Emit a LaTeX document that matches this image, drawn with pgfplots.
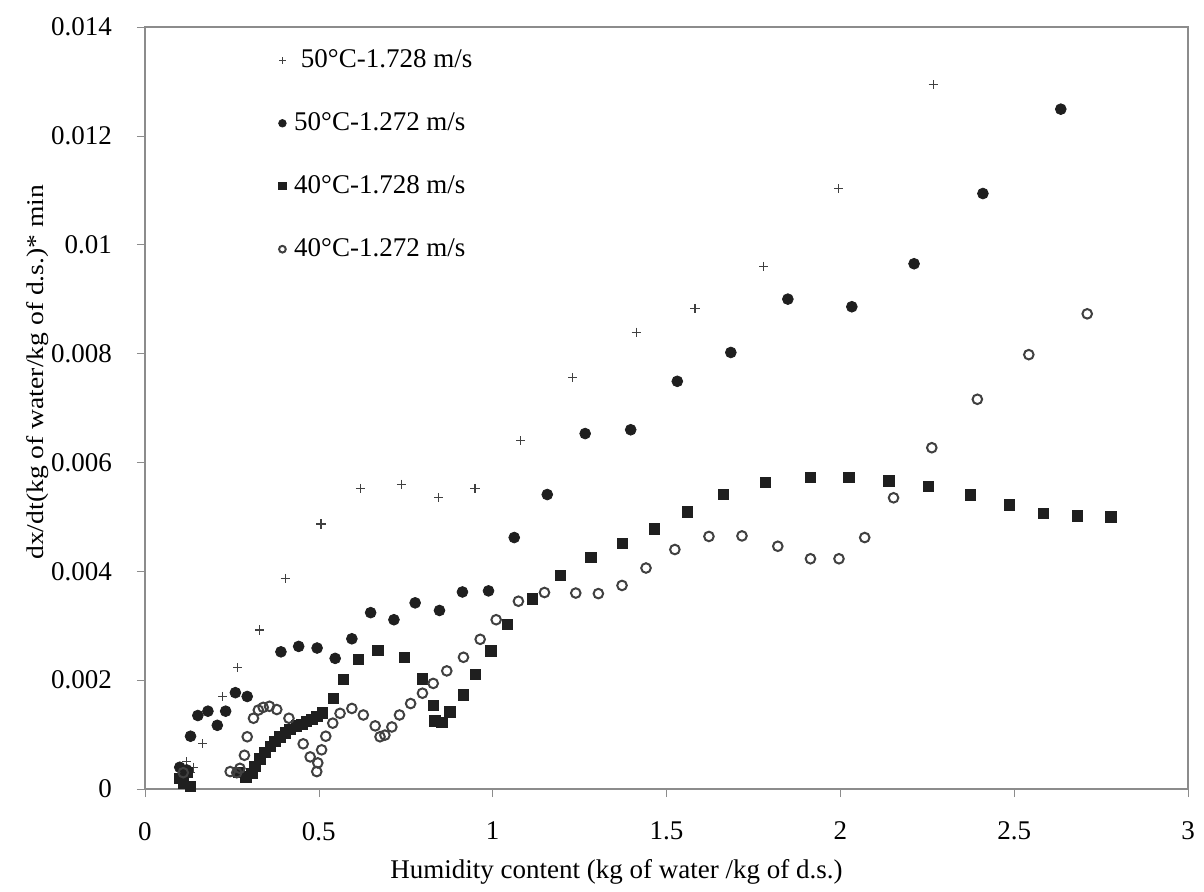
\documentclass[border=0pt]{standalone}
\usepackage{pgfplots}
\pgfplotsset{compat=1.18}
\usepackage{fontspec}
\setmainfont{Liberation Serif}
\newfontfamily\widefont[FakeStretch=1.15]{Liberation Serif}

\pgfplotstableread{
x y
0.12 0.0005
0.13 0.0003
0.14 0.0004
0.166 0.00083
0.224 0.0017
0.267 0.00223
0.330 0.00292
0.403 0.00387
0.506 0.00487
0.620 0.00552
0.738 0.0056
0.845 0.00535
0.949 0.00552
1.081 0.0064
1.230 0.00756
1.413 0.00839
1.582 0.00883
1.780 0.0096
1.995 0.01103
2.267 0.01294
}\seriesA

\pgfplotstableread{
x y
0.10 0.0004
0.11 0.0002
0.12 0.00035
0.131 0.00097
0.152 0.00135
0.181 0.00143
0.208 0.00117
0.232 0.00143
0.260 0.00177
0.294 0.0017
0.391 0.00252
0.442 0.00262
0.495 0.00259
0.547 0.0024
0.595 0.00276
0.649 0.00324
0.716 0.00311
0.777 0.00342
0.847 0.00328
0.913 0.00362
0.988 0.00364
1.062 0.00462
1.157 0.00541
1.266 0.00653
1.397 0.0066
1.531 0.00749
1.685 0.00802
1.849 0.009
2.033 0.00886
2.212 0.00965
2.410 0.01094
2.634 0.01249
}\seriesB

\pgfplotstableread{
x y
0.10 0.0002
0.11 0.0001
0.12 0.0003
0.13 0.00005
0.27 0.0003
0.29 0.00022
0.307 0.00029
0.316 0.00041
0.331 0.00055
0.345 0.00067
0.360 0.00078
0.374 0.00087
0.388 0.00096
0.403 0.00103
0.417 0.0011
0.436 0.00116
0.451 0.00119
0.465 0.00124
0.480 0.00128
0.494 0.00133
0.511 0.0014
0.542 0.00166
0.570 0.00201
0.614 0.00238
0.670 0.00255
0.746 0.00242
0.798 0.00202
0.829 0.00154
0.834 0.00125
0.854 0.00122
0.877 0.00142
0.916 0.00173
0.951 0.00211
0.995 0.00254
1.043 0.00302
1.114 0.00349
1.194 0.00392
1.283 0.00425
1.373 0.00451
1.465 0.00478
1.560 0.00509
1.664 0.00541
1.785 0.00563
1.914 0.00572
2.025 0.00572
2.140 0.00566
2.253 0.00556
2.374 0.0054
2.486 0.00522
2.584 0.00506
2.681 0.00502
2.778 0.005
}\seriesC

\pgfplotstableread{
x y
0.11 0.0003
0.245 0.00032
0.264 0.0003
0.273 0.00038
0.286 0.00062
0.294 0.00096
0.312 0.0013
0.326 0.00145
0.340 0.0015
0.358 0.00152
0.379 0.00146
0.414 0.0013
0.455 0.00083
0.475 0.00059
0.494 0.00032
0.497 0.00048
0.508 0.00072
0.520 0.00097
0.540 0.00121
0.561 0.00139
0.595 0.00148
0.628 0.00136
0.662 0.00116
0.676 0.00096
0.690 0.00099
0.710 0.00114
0.732 0.00136
0.764 0.00157
0.798 0.00176
0.829 0.00194
0.868 0.00217
0.916 0.00242
0.964 0.00275
1.010 0.00311
1.074 0.00345
1.149 0.00361
1.239 0.0036
1.304 0.00359
1.372 0.00374
1.441 0.00406
1.524 0.0044
1.622 0.00464
1.717 0.00465
1.820 0.00446
1.914 0.00423
1.996 0.00423
2.070 0.00462
2.153 0.00535
2.263 0.00627
2.394 0.00716
2.542 0.00798
2.710 0.00873
}\seriesD

\begin{document}
\begin{tikzpicture}
\begin{axis}[
  scale only axis, width=521.5pt, height=381pt,
  xmin=0, xmax=3, ymin=0, ymax=0.014,
  xtick={0,0.5,1,1.5,2,2.5,3},
  xticklabels={0,0.5,1,1.5,2,2.5,3},
  ytick={0,0.002,0.004,0.006,0.008,0.010,0.012,0.014},
  yticklabels={0,0.002,0.004,0.006,0.008,0.01,0.012,0.014},
  scaled y ticks=false,
  axis line style={black!45, line width=0.8pt},
  tick style={black!45}, major tick length=4pt, tick align=outside,
  xtick pos=lower, ytick pos=left,
  ticklabel style={font=\fontsize{13.5}{16}\selectfont},
  xticklabel style={yshift=-9pt},
  yticklabel style={xshift=-9pt},
  xlabel={Humidity content (kg of water /kg of d.s.)},
  ylabel={dx/dt(kg of water/kg of d.s.)* min},
  xlabel style={at={(axis description cs:0.452,-0.109)}, anchor=center, font=\fontsize{13.5}{16}\selectfont},
  ylabel style={at={(axis description cs:-0.103,0.547)}, anchor=center, rotate=0, font=\widefont\fontsize{12}{14}\selectfont},
  legend style={at={(0.122,0.981)}, anchor=north west, draw=none, fill=none,
    font=\fontsize{13.5}{16}\selectfont, row sep=17pt,
    /tikz/every odd column/.append style={column sep=2pt}},
  legend cell align=left,
  legend image code/.code={\draw[#1,mark repeat=2,mark phase=2,mark options={scale=0.7}] plot coordinates {(0cm,0cm)(0.15cm,0cm)(0.3cm,0cm)};},
]
\addplot[only marks, mark=+, mark size=2.3pt, black!75, line width=0.6pt] table[x=x,y=y] {\seriesA};
\addlegendentry{\ 50°C-1.728 m/s}
\addplot[only marks, mark=*, mark size=2.7pt, black!88] table[x=x,y=y] {\seriesB};
\addlegendentry{50°C-1.272 m/s}
\addplot[only marks, mark=square*, mark size=2.6pt, black!88] table[x=x,y=y] {\seriesC};
\addlegendentry{40°C-1.728 m/s}
\addplot[only marks, mark=o, mark size=2.4pt, line width=1pt, black!75, mark options={fill=white}] table[x=x,y=y] {\seriesD};
\addlegendentry{40°C-1.272 m/s}
\coordinate (bl) at (rel axis cs:-0.139,-0.131);
\coordinate (tr) at (rel axis cs:1.0153,1.0354);
\end{axis}
\path (bl) rectangle (tr);
\end{tikzpicture}
\end{document}
